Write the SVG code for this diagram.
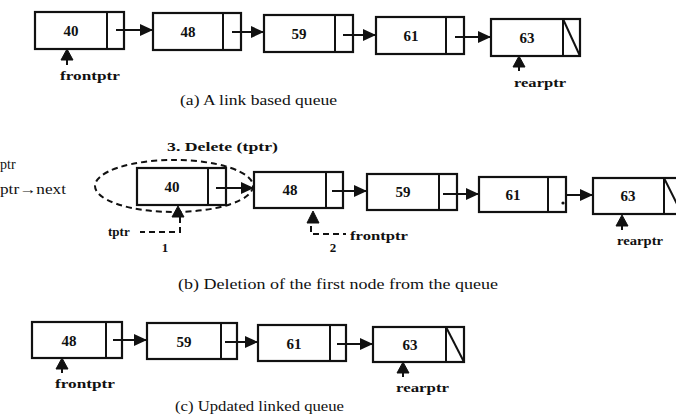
<svg xmlns="http://www.w3.org/2000/svg" width="676" height="417" viewBox="0 0 676 417">
<defs>
<style>
.box{fill:none;stroke:#111;stroke-width:2.2}
.div{stroke:#111;stroke-width:2}
.num{font-family:"Liberation Serif",serif;font-weight:bold;font-size:15px;fill:#111;text-anchor:middle}
.lbl{font-family:"Liberation Serif",serif;font-weight:bold;font-size:13px;fill:#111}
.cap{font-family:"Liberation Serif",serif;font-size:14px;fill:#111}
.link{stroke:#111;stroke-width:2;fill:none}
.ptr{fill:#111;stroke:#111;stroke-width:1}
.dash{stroke:#111;stroke-width:2;fill:none;stroke-dasharray:6 4}
</style>
<marker id="ah" markerWidth="14" markerHeight="12" refX="13" refY="6" orient="auto" markerUnits="userSpaceOnUse">
<path d="M0,0 L13,6 L0,12 z" fill="#111"/>
</marker>
</defs>
<rect width="676" height="417" fill="#fff"/>

<!-- (a) -->
<g id="a40"><rect class="box" x="35" y="12" width="89" height="37"/><line class="div" x1="107" y1="12" x2="107" y2="49"/><text class="num" x="71" y="36">40</text></g>
<g id="a48"><rect class="box" x="153" y="13" width="88" height="37"/><line class="div" x1="223" y1="13" x2="223" y2="50"/><text class="num" x="188" y="37">48</text></g>
<g id="a59"><rect class="box" x="264" y="15" width="89" height="37"/><line class="div" x1="335" y1="15" x2="335" y2="52"/><text class="num" x="299" y="39">59</text></g>
<g id="a61"><rect class="box" x="376" y="17" width="88" height="37"/><line class="div" x1="446" y1="17" x2="446" y2="54"/><text class="num" x="411" y="41">61</text></g>
<g id="a63"><rect class="box" x="491" y="19" width="89" height="37"/><line class="div" x1="563" y1="19" x2="563" y2="56"/><line class="div" x1="563" y1="19" x2="580" y2="56"/><text class="num" x="527" y="43">63</text></g>
<g id="a-frontptr"><path class="ptr" d="M67,49 L73,60 L61,60 z"/><line class="div" x1="67" y1="60" x2="67" y2="65"/><text class="lbl" x="60" y="80" textLength="60" lengthAdjust="spacingAndGlyphs">frontptr</text></g>
<g id="a-rearptr"><path class="ptr" d="M519,56 L525,67 L513,67 z"/><line class="div" x1="519" y1="67" x2="519" y2="71"/><text class="lbl" x="514" y="87" textLength="52" lengthAdjust="spacingAndGlyphs">rearptr</text></g>
<text class="cap" x="180" y="105" textLength="157" lengthAdjust="spacingAndGlyphs">(a) A link based queue</text>

<!-- (b) -->
<text class="lbl" x="167" y="151" textLength="111" lengthAdjust="spacingAndGlyphs">3. Delete (tptr)</text>
<text class="cap" x="0" y="169">ptr</text>
<text class="cap" x="0" y="194" textLength="66" lengthAdjust="spacingAndGlyphs">ptr→next</text>
<g id="b40"><ellipse class="dash" cx="174" cy="186" rx="79" ry="26"/><rect class="box" x="137" y="168" width="89" height="37"/><line class="div" x1="208" y1="168" x2="208" y2="205"/><text class="num" x="172" y="192">40</text></g>
<g id="b48"><rect class="box" x="254" y="172" width="89" height="36"/><line class="div" x1="326" y1="172" x2="326" y2="208"/><text class="num" x="290" y="195">48</text></g>
<g id="b59"><rect class="box" x="367" y="174" width="90" height="36"/><line class="div" x1="439" y1="174" x2="439" y2="210"/><text class="num" x="403" y="197">59</text></g>
<g id="b61"><rect class="box" x="479" y="177" width="87" height="35"/><line class="div" x1="548" y1="177" x2="548" y2="212"/><circle cx="563" cy="203" r="1.6" fill="#111"/><text class="num" x="513" y="200">61</text></g>
<g id="b63"><rect class="box" x="593" y="178" width="89" height="36"/><line class="div" x1="664" y1="178" x2="664" y2="214"/><line class="div" x1="664" y1="178" x2="682" y2="214"/><text class="num" x="628" y="201">63</text></g>
<g id="b-tptr"><path class="ptr" d="M178,206 L184,217 L172,217 z"/><path class="dash" d="M180,217 L180,232 L140,232"/><text class="lbl" x="108" y="236">tptr</text><text class="lbl" x="165" y="252" text-anchor="middle">1</text></g>
<g id="b-frontptr"><path class="ptr" d="M313,211 L319,223 L307,223 z"/><path class="dash" d="M311,226 L311,234 L346,234"/><text class="lbl" x="350" y="240" textLength="58" lengthAdjust="spacingAndGlyphs">frontptr</text><text class="lbl" x="333" y="252" text-anchor="middle">2</text></g>
<g id="b-rearptr"><path class="ptr" d="M622,215 L628,226 L616,226 z"/><line class="div" x1="622" y1="226" x2="622" y2="230"/><text class="lbl" x="617" y="245" textLength="46" lengthAdjust="spacingAndGlyphs">rearptr</text></g>
<text class="cap" x="178" y="289" textLength="320" lengthAdjust="spacingAndGlyphs">(b) Deletion of the first node from the queue</text>

<!-- (c) -->
<g id="c48"><rect class="box" x="32" y="322" width="90" height="36"/><line class="div" x1="106" y1="322" x2="106" y2="358"/><text class="num" x="69" y="346">48</text></g>
<g id="c59"><rect class="box" x="147" y="323" width="90" height="36"/><line class="div" x1="221" y1="323" x2="221" y2="359"/><text class="num" x="184" y="347">59</text></g>
<g id="c61"><rect class="box" x="258" y="325" width="88" height="36"/><line class="div" x1="330" y1="325" x2="330" y2="361"/><text class="num" x="294" y="349">61</text></g>
<g id="c63"><rect class="box" x="373" y="327" width="91" height="35"/><line class="div" x1="446" y1="327" x2="446" y2="362"/><line class="div" x1="446" y1="327" x2="464" y2="362"/><text class="num" x="410" y="350">63</text></g>
<g id="c-frontptr"><path class="ptr" d="M62,358 L68,369 L56,369 z"/><line class="div" x1="62" y1="369" x2="62" y2="373"/><text class="lbl" x="55" y="388" textLength="60" lengthAdjust="spacingAndGlyphs">frontptr</text></g>
<g id="c-rearptr"><path class="ptr" d="M403,362 L409,373 L397,373 z"/><line class="div" x1="403" y1="373" x2="403" y2="377"/><text class="lbl" x="396" y="392" textLength="53" lengthAdjust="spacingAndGlyphs">rearptr</text></g>
<text class="cap" x="175" y="411" textLength="169" lengthAdjust="spacingAndGlyphs">(c) Updated linked queue</text>

<g id="connectors">
<line class="link" x1="116" y1="30" x2="153" y2="30" marker-end="url(#ah)"/>
<line class="link" x1="232" y1="32" x2="264" y2="32" marker-end="url(#ah)"/>
<line class="link" x1="343" y1="35" x2="376" y2="35" marker-end="url(#ah)"/>
<line class="link" x1="455" y1="37" x2="491" y2="37" marker-end="url(#ah)"/>
<line class="link" x1="216" y1="188" x2="254" y2="188" marker-end="url(#ah)"/>
<line class="link" x1="332" y1="191" x2="367" y2="191" marker-end="url(#ah)"/>
<line class="link" x1="443" y1="194" x2="479" y2="194" marker-end="url(#ah)"/>
<line class="link" x1="567" y1="195" x2="593" y2="195" marker-end="url(#ah)"/>
<line class="link" x1="113" y1="340" x2="147" y2="340" marker-end="url(#ah)"/>
<line class="link" x1="225" y1="342" x2="258" y2="342" marker-end="url(#ah)"/>
<line class="link" x1="337" y1="344" x2="373" y2="344" marker-end="url(#ah)"/>
</g>
</svg>
